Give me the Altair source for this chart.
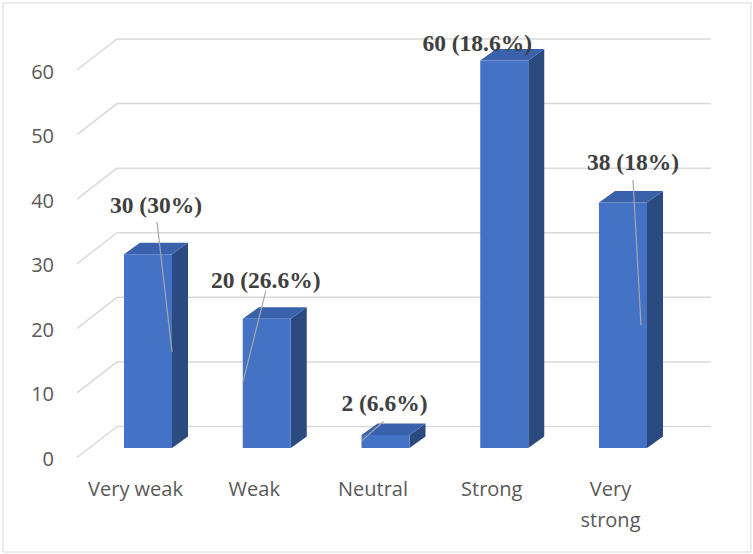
import altair as alt
import pandas as pd

# ---- data -------------------------------------------------------------
categories = ["Very weak", "Weak", "Neutral", "Strong", "Very strong"]
axis_names = ["Very weak", "Weak", "Neutral", "Strong", "Very\nstrong"]
counts = [30, 20, 2, 60, 38]
shares = ["30%", "26.6%", "6.6%", "18.6%", "18%"]
y_ticks = [0, 10, 20, 30, 40, 50, 60]

# ---- label placement (heights in value units, nudges in pixels) -------
label_height = [37.5, 25.9, 6.8, 62.5, 44.1]
label_nudge = [8, -1, -1, -27, 10]
leader_from = [35.0, 24.3, 4.1, None, 41.5]
leader_to = [14.9, 10.1, 1.1, None, 19.0]
leader_from_nudge = [9, -1, -2, None, 10]
leader_to_nudge = [24, -24, -24, None, 18]

# ---- layout (pixels) ----------------------------------------------------
W, H, PAD = 753, 554, 2.5
STEP = 118.75          # distance between category slots
FIRST_X = 148          # centre of the first bar front
BASE_Y = 448           # floor line under the bar fronts
PX_PER_UNIT = 6.458    # vertical pixels per count
HALF = 24              # half width of a bar front
DEPTH_X, DEPTH_Y = 16, 11.5     # receding offset of bar sides / tops
GRID_FRONT_X, GRID_WALL_X, GRID_RIGHT_X = 77, 117, 711
GRID_BACK_RISE, GRID_FRONT_DROP = 21.5, 9.5
TICK_LABEL_X = 54

FRONT = "#4472C4"
TOP = "#3A62AC"
SIDE = "#2B4A80"
GRID = "#D9D9D9"
AXIS_TEXT = "#595959"
LABEL_TEXT = "#404040"


def hx(px):  # horizontal pixels -> slot units
    return px / STEP


def vy(px):  # vertical pixels -> count units
    return px / PX_PER_UNIT


plot_w, plot_h = W - 2 * PAD, H - 2 * PAD
x0 = -(FIRST_X - PAD) / STEP
y0 = (BASE_Y - (H - PAD)) / PX_PER_UNIT
xs = alt.Scale(domain=[x0, x0 + plot_w / STEP], nice=False, zero=False)
ys = alt.Scale(domain=[y0, y0 + plot_h / PX_PER_UNIT], nice=False, zero=False)


def X(field):
    return alt.X(field, type="quantitative", scale=xs, axis=None)


def Y(field):
    return alt.Y(field, type="quantitative", scale=ys, axis=None)


# ---- gridlines: back wall + receding floor strokes ---------------------
grid = pd.DataFrame({"t": y_ticks})
grid["back"] = grid["t"] + vy(GRID_BACK_RISE)
grid["front"] = grid["t"] - vy(GRID_FRONT_DROP)
grid["xf"] = hx(GRID_FRONT_X - FIRST_X)
grid["xw"] = hx(GRID_WALL_X - FIRST_X)
grid["xr"] = hx(GRID_RIGHT_X - FIRST_X)

wall = alt.Chart(grid).mark_rule(color=GRID, strokeWidth=1.5).encode(
    x=X("xw"), x2="xr", y=Y("back"))
floor = alt.Chart(grid).mark_rule(color=GRID, strokeWidth=1.5).encode(
    x=X("xf"), x2="xw", y=Y("front"), y2="back")

tick_labels = alt.Chart(grid.assign(lx=hx(TICK_LABEL_X - FIRST_X))).mark_text(
    align="right", baseline="middle", dy=12, font="Open Sans", fontSize=20,
    color=AXIS_TEXT).encode(x=X("lx"), y=Y("t"), text=alt.Text("t:Q"))

# ---- bars ----------------------------------------------------------------
bars = pd.DataFrame({"cat": categories, "i": range(len(categories)),
                     "n": counts})
bars["left"] = bars["i"] - hx(HALF)
bars["right"] = bars["i"] + hx(HALF)
bars["zero"] = 0

front = alt.Chart(bars).mark_rect(color=FRONT).encode(
    x=X("left"), x2="right", y=Y("n"), y2="zero")

side_rows, top_rows = [], []
for i, (c, n) in enumerate(zip(categories, counts)):
    r = i + hx(HALF)
    side_rows.append({"cat": c, "x": r, "lo": 0, "hi": n})
    side_rows.append({"cat": c, "x": r + hx(DEPTH_X),
                      "lo": vy(DEPTH_Y), "hi": n + vy(DEPTH_Y)})
    top_rows.append({"cat": c, "y": n, "l": i - hx(HALF), "r": r})
    top_rows.append({"cat": c, "y": n + vy(DEPTH_Y),
                     "l": i - hx(HALF) + hx(DEPTH_X), "r": r + hx(DEPTH_X)})

side = alt.Chart(pd.DataFrame(side_rows)).mark_area(
    color=SIDE, orient="vertical").encode(
    x=X("x"), y=Y("hi"), y2="lo", detail="cat:N")
top = alt.Chart(pd.DataFrame(top_rows)).mark_area(
    color=TOP, orient="horizontal").encode(
    y=Y("y"), x=X("l"), x2="r", detail="cat:N")

# ---- category names under the floor -----------------------------------
names = pd.DataFrame({"name": axis_names,
                      "x": [i - hx(12.5) for i in range(len(axis_names))],
                      "zero": 0})
name_text = alt.Chart(names).mark_text(
    align="center", baseline="top", dy=32, lineBreak="\n", lineHeight=31,
    font="Open Sans", fontSize=20, color=AXIS_TEXT).encode(
    x=X("x"), y=Y("zero"), text="name:N")

# ---- value labels with leader lines -----------------------------------
labels = pd.DataFrame({
    "text": [f"{n} ({s})" for n, s in zip(counts, shares)],
    "x": [i + hx(d) for i, d in enumerate(label_nudge)],
    "y": label_height,
})
value_text = alt.Chart(labels).mark_text(
    align="center", baseline="middle", font="Liberation Serif",
    fontWeight="bold", fontSize=23.5, color=LABEL_TEXT).encode(
    x=X("x"), y=Y("y"), text="text:N")

leaders = pd.DataFrame([
    {"x": i + hx(a), "y": f, "x2": i + hx(b), "y2": t}
    for i, (f, t, a, b) in enumerate(zip(leader_from, leader_to,
                                         leader_from_nudge, leader_to_nudge))
    if f is not None
])
leader_lines = alt.Chart(leaders).mark_rule(
    color="#A6A6A6", strokeWidth=1.2).encode(
    x=X("x"), x2="x2", y=Y("y"), y2="y2")

chart = alt.layer(
    wall, floor, tick_labels, side, top, front, name_text,
    leader_lines, value_text,
).properties(
    width=plot_w, height=plot_h, padding=PAD, autosize="none",
    background="white",
).configure_view(stroke=GRID, strokeWidth=1)

chart.save("out.html", embed_options={"renderer": "svg", "actions": False})
